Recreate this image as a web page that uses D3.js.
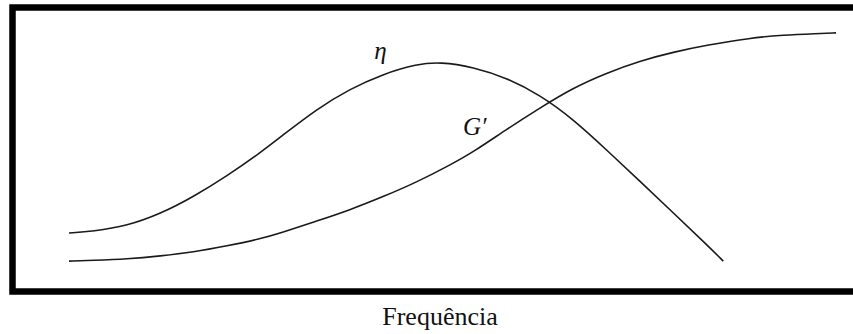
<!DOCTYPE html>
<html>
<head>
<meta charset="utf-8">
<script src="https://cdn.jsdelivr.net/npm/d3@7"></script>
<style>
  html, body { margin: 0; padding: 0; background: #fff; }
  svg { display: block; }
</style>
</head>
<body>
<svg id="chart" width="853" height="334"></svg>
<script>
// Frequency (arbitrary units, 0–100) and the two rheological responses
const etaFreq = [0, 3.1, 7.6, 11.9, 16.2, 20.6, 24.9, 27.9, 32.3, 36.6, 40.9, 45.4, 48.4, 52.7, 57.1, 61.4, 65.7, 70.1, 74.4, 78.8, 83.2, 85.3];
const etaValues = [12.6, 13.3, 15.7, 20.9, 28.3, 37.4, 47.4, 55.2, 66.5, 75.2, 81.7, 86.1, 87.0, 84.8, 80.0, 72.6, 62.2, 48.7, 35.2, 21.3, 7.4, 0.4];

const gFreq = [0, 3.1, 7.6, 11.9, 16.2, 20.6, 24.9, 27.9, 32.3, 36.6, 40.9, 45.4, 49.7, 52.7, 57.1, 61.4, 65.7, 70.1, 74.4, 78.8, 83.2, 88.8, 93.1, 97.5, 100];
const gValues = [0.4, 0.7, 1.3, 2.6, 4.3, 7.0, 10.0, 13.0, 17.8, 22.6, 28.3, 34.8, 42.2, 47.8, 57.8, 67.0, 75.7, 82.2, 87.4, 91.3, 94.3, 97.4, 98.7, 99.3, 99.6];

const seriesLabels = ["η", "G′"];
const axisTitle = "Frequência";

const svg = d3.select("#chart");

const x = d3.scaleLinear().domain([0, 100]).range([69, 836]);
const y = d3.scaleLinear().domain([0, 100]).range([262, 32]);

// Frame (open on the right, running past the edge)
svg.append("rect")
  .attr("x", 12.5).attr("y", 7.5)
  .attr("width", 900).attr("height", 284)
  .attr("fill", "none")
  .attr("stroke", "#000")
  .attr("stroke-width", 6.5);

const line = d3.line()
  .x(d => x(d[0]))
  .y(d => y(d[1]))
  .curve(d3.curveBasis);

const curves = [d3.zip(etaFreq, etaValues), d3.zip(gFreq, gValues)];

svg.selectAll("path.curve")
  .data(curves)
  .join("path")
  .attr("class", "curve")
  .attr("d", line)
  .attr("fill", "none")
  .attr("stroke", "#1a1a1a")
  .attr("stroke-width", 1.6);

// Curve labels
const serif = "'Liberation Serif', 'Times New Roman', serif";

svg.append("text")
  .attr("x", x(40.6)).attr("y", 59)
  .attr("text-anchor", "middle")
  .attr("font-family", serif)
  .attr("font-style", "italic")
  .attr("font-size", 25)
  .attr("fill", "#111")
  .text(seriesLabels[0]);

svg.append("text")
  .attr("x", x(52.9)).attr("y", 135)
  .attr("text-anchor", "middle")
  .attr("font-family", serif)
  .attr("font-style", "italic")
  .attr("font-size", 25)
  .attr("fill", "#111")
  .text(seriesLabels[1]);

// Axis title
svg.append("text")
  .attr("x", 440).attr("y", 325)
  .attr("text-anchor", "middle")
  .attr("font-family", serif)
  .attr("font-size", 26)
  .attr("fill", "#111")
  .text(axisTitle);
</script>
</body>
</html>
